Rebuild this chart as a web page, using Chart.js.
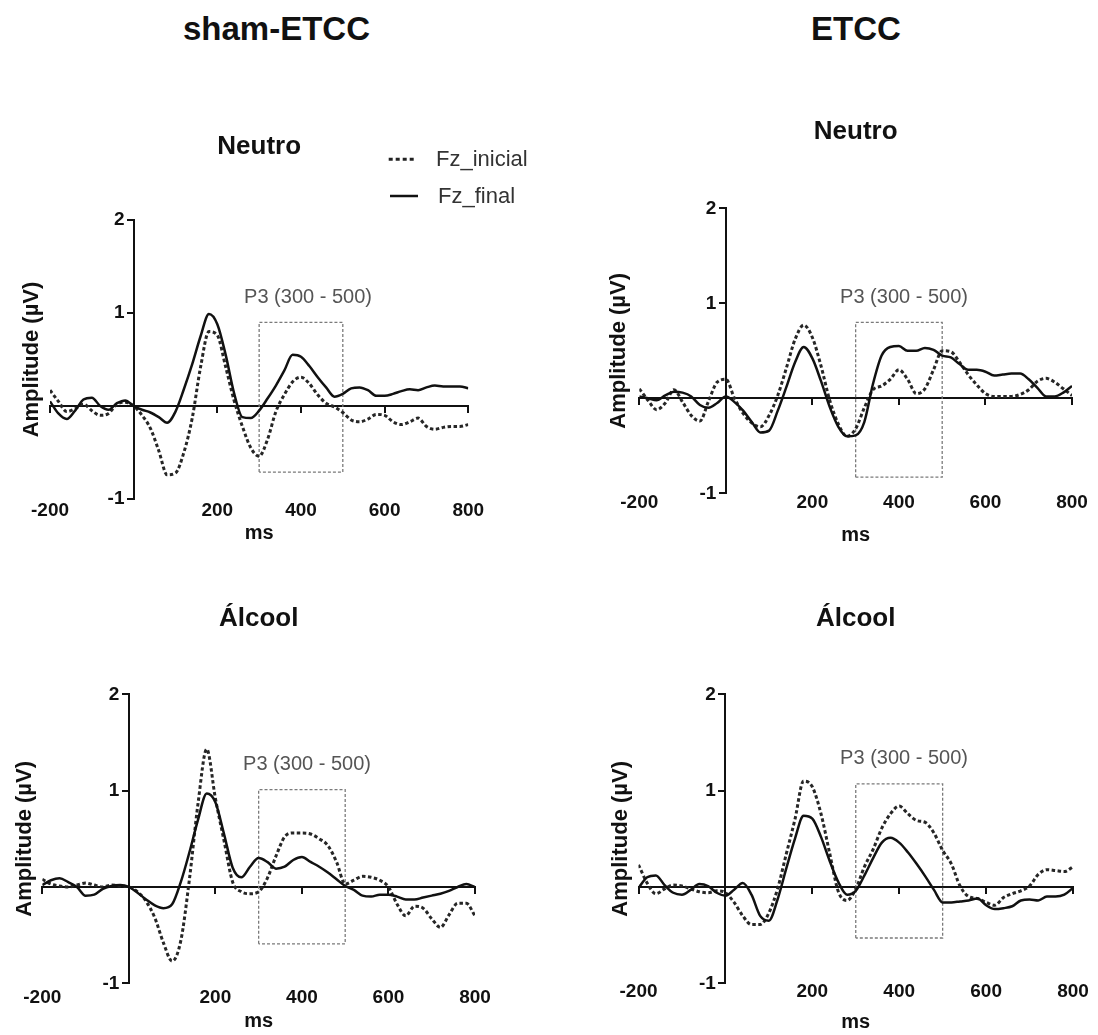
<!DOCTYPE html>
<html><head><meta charset="utf-8">
<script src="https://cdn.jsdelivr.net/npm/chart.js@4.4.1/dist/chart.umd.min.js"></script>
<style>
html,body{margin:0;padding:0;background:#fff;}
body{width:1098px;height:1035px;position:relative;overflow:hidden;font-family:'Liberation Sans',Arial,Helvetica,sans-serif;}
canvas{position:absolute;}
.ttl{position:absolute;font-weight:bold;font-size:33px;line-height:40px;text-align:center;color:#111;}
.leg{position:absolute;font-size:22px;line-height:26px;color:#333;white-space:nowrap;}
svg{position:absolute;}
</style></head><body>
<canvas id="c1" width="549" height="450" style="left:0;top:100px"></canvas>
<canvas id="c2" width="549" height="450" style="left:549px;top:100px"></canvas>
<canvas id="c3" width="549" height="475" style="left:0;top:560px"></canvas>
<canvas id="c4" width="549" height="475" style="left:549px;top:560px"></canvas>
<div id="t1" class="ttl" style="left:0;top:9px;width:553px"></div>
<div id="t2" class="ttl" style="left:706px;top:9px;width:300px"></div>
<svg width="40" height="60" style="left:382px;top:150px">
  <line x1="6.7" y1="9.3" x2="34.7" y2="9.3" stroke="#222" stroke-width="3" stroke-dasharray="4 3"/>
  <line x1="8" y1="46" x2="36" y2="46" stroke="#111" stroke-width="2.5"/>
</svg>
<div id="l1" class="leg" style="left:436px;top:146px"></div>
<div id="l2" class="leg" style="left:438px;top:183px"></div>
<script>
// ---------- data ----------
const groupTitles = ['sham-ETCC', 'ETCC'];
const conditionTitles = ['Neutro', 'Neutro', 'Álcool', 'Álcool'];
const seriesNames = ['Fz_inicial', 'Fz_final'];
const xTickLabels = [-200, 200, 400, 600, 800];
const yTickLabels = [-1, 1, 2];
const p3Window = [300, 500];
const p3Label = 'P3 (300 - 500)';
const p3BoxTop = [0.9, 0.8, 1.01, 1.07];
const p3BoxBottom = [-0.71, -0.83, -0.59, -0.53];

const timeMs = [-200,-180,-160,-140,-120,-100,-80,-60,-40,-20,
  0,20,40,60,80,100,120,140,160,180,
  200,220,240,260,280,300,320,340,360,380,
  400,420,440,460,480,500,520,540,560,580,
  600,620,640,660,680,700,720,740,760,780,800];

const shamNeutroInicial = [0.17,0.05,-0.06,-0.03,0.02,-0.05,-0.1,-0.08,0.02,0.04,
  0.0,-0.1,-0.24,-0.48,-0.74,-0.72,-0.5,-0.13,0.42,0.8,
  0.76,0.42,0.06,-0.22,-0.45,-0.54,-0.36,-0.06,0.12,0.26,
  0.31,0.24,0.12,0.03,-0.01,-0.07,-0.15,-0.17,-0.14,-0.09,
  -0.1,-0.17,-0.2,-0.17,-0.13,-0.22,-0.25,-0.23,-0.22,-0.22,-0.2];
const shamNeutroFinal = [0.05,-0.08,-0.14,-0.05,0.07,0.09,0.0,-0.04,0.03,0.06,
  0.0,-0.04,-0.07,-0.12,-0.18,-0.06,0.18,0.45,0.75,0.99,
  0.88,0.55,0.14,-0.12,-0.13,-0.05,0.08,0.22,0.38,0.55,
  0.53,0.43,0.31,0.2,0.1,0.13,0.19,0.2,0.17,0.11,
  0.11,0.13,0.16,0.18,0.17,0.2,0.22,0.21,0.21,0.21,0.19];

const etccNeutroInicial = [0.1,-0.02,-0.12,-0.05,0.09,-0.04,-0.18,-0.24,-0.03,0.17,
  0.2,0.0,-0.16,-0.26,-0.3,-0.18,0.03,0.32,0.62,0.77,
  0.64,0.34,-0.02,-0.27,-0.4,-0.32,-0.1,0.09,0.13,0.2,
  0.3,0.2,0.05,0.1,0.3,0.5,0.49,0.38,0.25,0.14,
  0.05,0.02,0.02,0.02,0.04,0.09,0.18,0.21,0.17,0.1,0.03];
const etccNeutroFinal = [0.02,0.0,-0.02,0.03,0.07,0.06,0.02,-0.07,-0.1,-0.05,
  0.02,-0.04,-0.13,-0.25,-0.36,-0.34,-0.13,0.12,0.38,0.54,
  0.42,0.18,-0.09,-0.3,-0.4,-0.39,-0.25,0.15,0.45,0.54,
  0.55,0.5,0.5,0.53,0.51,0.45,0.43,0.36,0.3,0.3,
  0.28,0.24,0.25,0.26,0.26,0.2,0.11,0.02,0.02,0.06,0.13];

const shamAlcoolInicial = [0.08,0.03,0.01,0.0,0.02,0.04,0.02,0.0,0.02,0.01,
  0.0,-0.05,-0.15,-0.32,-0.58,-0.77,-0.56,0.08,0.87,1.43,
  0.92,0.48,0.05,-0.05,-0.07,-0.05,0.09,0.32,0.52,0.56,
  0.56,0.55,0.5,0.43,0.26,0.03,0.07,0.11,0.1,0.07,
  0.0,-0.18,-0.3,-0.2,-0.22,-0.33,-0.42,-0.29,-0.17,-0.17,-0.3];
const shamAlcoolFinal = [0.02,0.07,0.09,0.05,0.0,-0.09,-0.08,-0.02,0.01,0.02,
  0.0,-0.06,-0.13,-0.19,-0.22,-0.18,0.05,0.36,0.7,0.97,
  0.88,0.55,0.2,0.1,0.21,0.3,0.26,0.19,0.21,0.28,
  0.31,0.26,0.21,0.15,0.08,0.01,-0.03,-0.09,-0.1,-0.08,
  -0.08,-0.1,-0.13,-0.13,-0.11,-0.09,-0.07,-0.04,0.0,0.03,0.0];

const etccAlcoolInicial = [0.23,0.04,-0.07,-0.02,0.02,0.01,-0.02,-0.05,-0.06,-0.04,
  -0.06,-0.16,-0.3,-0.39,-0.39,-0.27,-0.02,0.34,0.7,1.1,
  1.04,0.76,0.35,-0.05,-0.14,-0.02,0.21,0.39,0.61,0.76,
  0.84,0.76,0.69,0.67,0.56,0.38,0.24,0.01,-0.1,-0.12,
  -0.16,-0.19,-0.11,-0.07,-0.04,0.01,0.13,0.18,0.17,0.16,0.21];
const etccAlcoolFinal = [-0.01,0.1,0.12,0.02,-0.06,-0.08,-0.03,0.03,0.01,-0.06,
  -0.09,-0.03,0.04,-0.08,-0.3,-0.35,-0.13,0.19,0.5,0.74,
  0.71,0.52,0.27,0.05,-0.08,-0.04,0.12,0.3,0.46,0.51,
  0.46,0.36,0.24,0.11,-0.03,-0.16,-0.16,-0.15,-0.14,-0.12,
  -0.19,-0.23,-0.22,-0.2,-0.14,-0.13,-0.14,-0.1,-0.1,-0.08,-0.01];

const panelInicial = [shamNeutroInicial, etccNeutroInicial, shamAlcoolInicial, etccAlcoolInicial];
const panelFinal = [shamNeutroFinal, etccNeutroFinal, shamAlcoolFinal, etccAlcoolFinal];

// ---------- text ----------
document.getElementById('t1').textContent = groupTitles[0];
document.getElementById('t2').textContent = groupTitles[1];
document.getElementById('l1').textContent = seriesNames[0];
document.getElementById('l2').textContent = seriesNames[1];

// ---------- layout (per panel, pixels) ----------
const layouts = [
  {id:'c1', padL:18.3, titleW:31.7, padR:80.7, padT:31.4, titlePadB:57.4, xbH:51,   tickPad:0, tickLH:1.2, msPad:5},
  {id:'c2', padL:56.8, titleW:33.5, padR:26,   padT:16.4, titlePadB:60.7, xbH:56.7, tickPad:0, tickLH:1.0, msPad:3},
  {id:'c3', padL:11.3, titleW:31,   padR:74,   padT:43.4, titlePadB:59.7, xbH:51.7, tickPad:2.8, tickLH:1.2, msPad:1.3},
  {id:'c4', padL:58.8, titleW:30.7, padR:25,   padT:43.4, titlePadB:59.7, xbH:51.7, tickPad:0, tickLH:0.85, msPad:1}
];
const yLabelAnchorMs = -22;   // where the y tick labels are anchored (right-aligned), just left of the axis

const FONT = "'Liberation Sans', Arial, Helvetica, sans-serif";
Chart.defaults.font.family = FONT;
Chart.defaults.color = '#111';

const p3LabelPlugin = {
  id: 'p3label',
  afterDatasetsDraw(chart, args, opts) {
    const {ctx, scales} = chart;
    ctx.save();
    ctx.font = '20px ' + FONT;
    ctx.fillStyle = '#555';
    ctx.textAlign = 'left';
    ctx.textBaseline = 'middle';
    ctx.fillText(opts.text, scales.x.getPixelForValue(opts.xVal), scales.y.getPixelForValue(opts.yVal) - opts.dy);
    ctx.restore();
  }
};

function pts(vals) { return timeMs.map((t, i) => ({x: t, y: vals[i]})); }

layouts.forEach((L, k) => {
  const top = p3BoxTop[k], bot = p3BoxBottom[k];
  const box = [
    {x: p3Window[0], y: bot}, {x: p3Window[0], y: top},
    {x: p3Window[1], y: top}, {x: p3Window[1], y: bot}, {x: p3Window[0], y: bot}
  ];
  new Chart(document.getElementById(L.id), {
    type: 'line',
    data: {
      datasets: [
        {label: seriesNames[1], data: pts(panelFinal[k]), borderColor: '#111', borderWidth: 2.5,
         pointRadius: 0, cubicInterpolationMode: 'monotone', fill: false, xAxisID: 'x', yAxisID: 'y'},
        {label: seriesNames[0], data: pts(panelInicial[k]), borderColor: '#262626', borderWidth: 3,
         borderDash: [3.5, 2.5], pointRadius: 0, cubicInterpolationMode: 'monotone', fill: false, xAxisID: 'x', yAxisID: 'y'},
        {label: p3Label, data: box, borderColor: '#7a7a7a', borderWidth: 1.3, borderDash: [3, 2],
         pointRadius: 0, tension: 0, fill: false, xAxisID: 'x', yAxisID: 'y'}
      ]
    },
    options: {
      responsive: false,
      animation: false,
      devicePixelRatio: 1,
      layout: {padding: {left: L.padL, right: L.padR, top: L.padT, bottom: 0}},
      plugins: {
        legend: {display: false},
        tooltip: {enabled: false},
        title: {display: true, text: conditionTitles[k], fullSize: false,
                font: {size: 26, weight: 'bold'}, color: '#111', padding: {top: 0, bottom: L.titlePadB}},
        p3label: {text: p3Label, xVal: 264, yVal: top, dy: 25}
      },
      scales: {
        x: {
          axis: 'x', type: 'linear', min: -200, max: 800, position: {y: 0},
          ticks: {display: false, stepSize: 200},
          grid: {display: true, drawOnChartArea: false, drawTicks: true, tickLength: 6, color: '#111', lineWidth: 2},
          border: {display: true, color: '#111', width: 2}
        },
        xb: {
          axis: 'x', type: 'linear', min: -200, max: 800, position: 'bottom',
          ticks: {stepSize: 200, padding: L.tickPad, maxRotation: 0, autoSkip: false,
                  font: {size: 19, weight: 'bold', lineHeight: L.tickLH}, color: '#111',
                  callback: v => xTickLabels.includes(v) ? String(v) : ''},
          grid: {display: false, drawTicks: false},
          border: {display: false},
          title: {display: true, text: 'ms', font: {size: 20, weight: 'bold'}, color: '#111',
                  padding: {top: 0, bottom: L.msPad}},
          afterFit: s => { s.height = L.xbH; }
        },
        y: {
          axis: 'y', type: 'linear', min: -1, max: 2, position: {x: 0},
          ticks: {display: false, stepSize: 1},
          grid: {display: true, drawOnChartArea: false, drawTicks: true, tickLength: 6, color: '#111', lineWidth: 2},
          border: {display: true, color: '#111', width: 2}
        },
        yl: {
          axis: 'y', type: 'linear', min: -1, max: 2, position: {x: yLabelAnchorMs},
          ticks: {stepSize: 1, padding: 0, font: {size: 19, weight: 'bold'}, color: '#111',
                  callback: v => yTickLabels.includes(v) ? String(v) : ''},
          grid: {display: false, drawTicks: false},
          border: {display: false}
        },
        yt: {
          axis: 'y', type: 'linear', position: 'left',
          ticks: {display: false},
          grid: {display: false, drawTicks: false},
          border: {display: false},
          title: {display: true, text: 'Amplitude (µV)', font: {size: 22, weight: 'bold'}, color: '#111', padding: 0},
          afterFit: s => { s.width = L.titleW; }
        }
      }
    },
    plugins: [p3LabelPlugin]
  });
});
</script>
</body></html>
